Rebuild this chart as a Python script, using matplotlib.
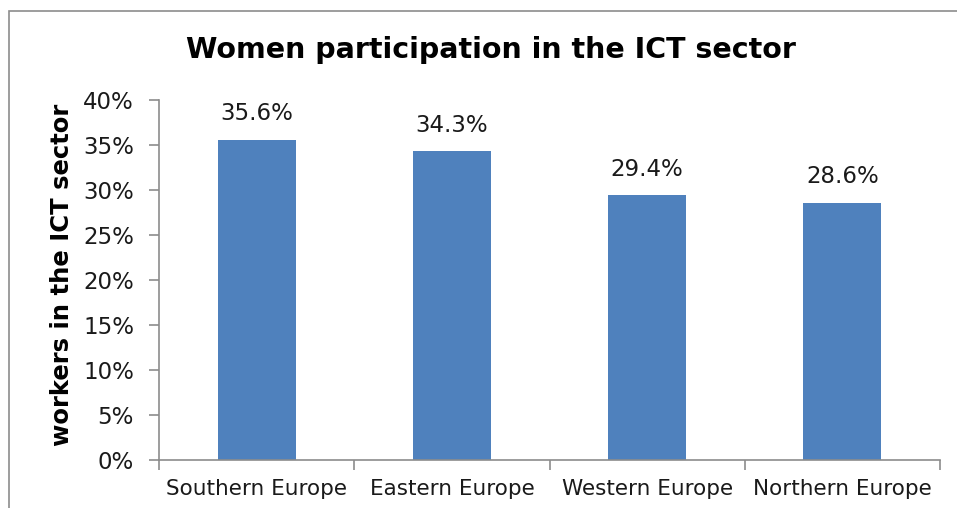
import matplotlib
matplotlib.use("Agg")
import matplotlib.pyplot as plt
from matplotlib.patches import Rectangle
import numpy as np

categories = ["Southern Europe", "Eastern Europe", "Western Europe", "Northern Europe"]
values = [35.6, 34.3, 29.4, 28.6]
yticks = [0, 5, 10, 15, 20, 25, 30, 35, 40]

W, H = 957, 508
fig = plt.figure(figsize=(W/100, H/100), dpi=100)
plt.rcParams['font.family'] = ['DejaVu Sans']

# outer frame (extends beyond right/bottom edge)
fig.patches.append(Rectangle((9/W, -0.1), 1.2, (1-11/H)+0.1, transform=fig.transFigure,
                             fill=False, edgecolor="#8c8c8c", linewidth=1.2))

ax = fig.add_axes([159/W, 1-460/H, (940-159)/W, (460-100)/H])
x = np.arange(len(categories))
ax.bar(x, values, width=0.4, color="#4F81BD")
ax.set_xlim(-0.5, len(categories)-0.5)
ax.set_ylim(0, 40)
ax.set_yticks(yticks)
ax.set_yticklabels([f"{v}%" for v in yticks], fontsize=16.5, color="#1a1a1a")
ax.set_xticks(x)
ax.set_xticklabels(categories, fontsize=15.5, color="#1a1a1a")
ax.tick_params(axis="x", length=0, pad=14)
ax.set_xticks(np.arange(len(categories)+1)-0.5, minor=True)
ax.tick_params(axis="x", which="minor", length=7, color="#8c8c8c", width=1.2)
ax.tick_params(axis="y", length=7, color="#8c8c8c", width=1.2, pad=11)
for s in ["top", "right"]:
    ax.spines[s].set_visible(False)
for s in ["left", "bottom"]:
    ax.spines[s].set_color("#8c8c8c")
    ax.spines[s].set_linewidth(1.2)

for xi, v in zip(x, values):
    ax.annotate(f"{v:.1f}%", (xi, v), xytext=(0, 10.5), textcoords="offset points",
                ha="center", va="bottom", fontsize=16.5, color="#1a1a1a")

fig.text(491/W, 1-50/H, "Women participation in the ICT sector", ha="center", va="center",
         fontsize=20.5, fontweight="bold", color="black")
fig.text(62/W, 1-275/H, "workers in the ICT sector", ha="center", va="center", rotation=90,
         fontsize=17.5, fontweight="bold", color="black")

fig.savefig("out.png", dpi=100)
